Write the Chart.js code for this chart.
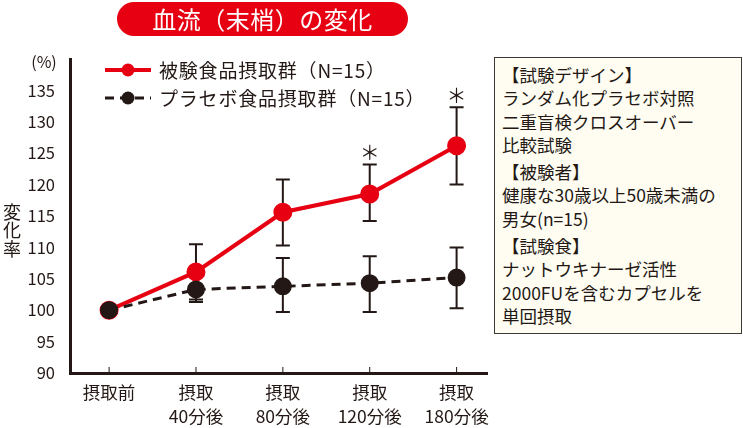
<!DOCTYPE html>
<html lang="ja">
<head>
<meta charset="utf-8">
<script src="https://cdn.jsdelivr.net/npm/chart.js@4/dist/chart.umd.min.js"></script>
<style>
  html, body { margin: 0; padding: 0; background: #fff; }
  body { width: 743px; height: 428px; position: relative; overflow: hidden;
         font-family: "Noto Sans CJK JP", "Noto Sans", sans-serif; color: #231815; }
  #wrap { position: absolute; left: 0; top: 0; width: 743px; height: 428px; }
  #title { position: absolute; left: 117px; top: 2px; width: 291px; height: 34px;
           border-radius: 17px; background: #e60012; color: #fff; font-size: 24px;
           line-height: 33px; text-align: center; letter-spacing: 0.5px; }
  #note { position: absolute; left: 494px; top: 57px; width: 239px; height: 270px;
          border: 1px solid #3e3a39; background: #fffdf1; padding: 5px 0 0 7px;
          font-size: 17.5px; line-height: 23.3px; letter-spacing: 0px; }
  #note p { margin: 0 0 4px 0; }
</style>
</head>
<body>
<div id="wrap"><canvas id="chart" width="743" height="428"></canvas></div>
<div id="title">血流（末梢）の変化</div>
<div id="note"></div>
<script>
// categories / values
const categories = [['摂取前'], ['摂取', '40分後'], ['摂取', '80分後'], ['摂取', '120分後'], ['摂取', '180分後']];
const testValues = [100, 106.1, 115.6, 118.5, 126.2];
const testUpper = [100, 110.5, 120.8, 123.2, 132.3];
const testLower = [100, 101.7, 110.3, 114.2, 120.0];
const placeboValues = [100, 103.3, 103.8, 104.3, 105.2];
const placeboUpper = [100, 105.3, 108.3, 108.6, 110.0];
const placeboLower = [100, 101.3, 99.7, 99.7, 100.3];
const sigMarks = ['', '', '', '＊', '＊'];
const yTicks = [90, 95, 100, 105, 110, 115, 120, 125, 130, 135];
const seriesNames = ['被験食品摂取群（N=15）', 'プラセボ食品摂取群（N=15）'];
const noteLines = [
  ['【試験デザイン】', 'ランダム化プラセボ対照', '二重盲検クロスオーバー', '比較試験'],
  ['【被験者】', '健康な30歳以上50歳未満の', '男女(n=15)'],
  ['【試験食】', 'ナットウキナーゼ活性', '2000FUを含むカプセルを', '単回摂取']
];

const RED = '#e60012';
const INK = '#231815';
const FONT = '"Noto Sans CJK JP", "Noto Sans", sans-serif';

document.getElementById('note').innerHTML =
  noteLines.map(g => '<p>' + g.join('<br>') + '</p>').join('');

const toPoints = vals => vals.map((v, i) => ({x: i, y: v}));

// error bars, significance marks, axis titles and legend
const extras = {
  id: 'extras',
  beforeDatasetsDraw(chart) {
    const {ctx, scales: {x, y}} = chart;
    const bars = [[testUpper, testLower], [placeboUpper, placeboLower]];
    ctx.save();
    ctx.lineWidth = 2;
    ctx.strokeStyle = INK;
    bars.forEach(([up, lo]) => {
      up.forEach((u, i) => {
        if (u === lo[i]) return;
        const px = x.getPixelForValue(i);
        const yt = y.getPixelForValue(u), yb = y.getPixelForValue(lo[i]);
        ctx.beginPath();
        ctx.moveTo(px, yt); ctx.lineTo(px, yb);
        ctx.moveTo(px - 7, yt); ctx.lineTo(px + 7, yt);
        ctx.moveTo(px - 7, yb); ctx.lineTo(px + 7, yb);
        ctx.stroke();
      });
    });
    ctx.restore();
  },
  afterDraw(chart) {
    const {ctx, scales: {x, y}, chartArea} = chart;
    ctx.save();
    // small tick marks on the x axis
    ctx.strokeStyle = INK;
    ctx.lineWidth = 1;
    categories.forEach((c, i) => {
      const px = x.getPixelForValue(i);
      ctx.beginPath();
      ctx.moveTo(px, chartArea.bottom);
      ctx.lineTo(px, chartArea.bottom - 6);
      ctx.stroke();
    });
    // significance marks
    ctx.fillStyle = INK;
    ctx.font = '20px ' + FONT;
    ctx.textAlign = 'center';
    ctx.textBaseline = 'middle';
    sigMarks.forEach((m, i) => {
      if (!m) return;
      ctx.fillText(m, x.getPixelForValue(i), y.getPixelForValue(testUpper[i]) - 12);
    });
    // axis titles
    ctx.font = '16px ' + FONT;
    ctx.fillText('(%)', 44, 62);
    ctx.font = '18px ' + FONT;
    ['変', '化', '率'].forEach((ch, i) => ctx.fillText(ch, 12, 212 + i * 18.5));
    // legend
    chart.data.datasets.forEach((ds, i) => {
      const ly = 70 + i * 28;
      ctx.strokeStyle = ds.borderColor;
      ctx.lineWidth = ds.borderWidth;
      ctx.setLineDash(ds.borderDash || []);
      ctx.beginPath();
      ctx.moveTo(105, ly); ctx.lineTo(151, ly);
      ctx.stroke();
      ctx.setLineDash([]);
      ctx.fillStyle = ds.pointBackgroundColor;
      ctx.beginPath();
      ctx.arc(128, ly, 6.5, 0, Math.PI * 2);
      ctx.fill();
      ctx.fillStyle = INK;
      ctx.font = '19px ' + FONT;
      ctx.letterSpacing = '0.8px';
      ctx.textAlign = 'left';
      ctx.fillText(ds.label, 159, ly + 1);
      ctx.letterSpacing = '0px';
      ctx.textAlign = 'center';
    });
    ctx.restore();
  }
};

new Chart(document.getElementById('chart'), {
  type: 'line',
  data: {
    datasets: [
      {
        label: seriesNames[0],
        data: toPoints(testValues),
        borderColor: RED,
        borderWidth: 4,
        pointBackgroundColor: RED,
        pointBorderColor: RED,
        pointRadius: 7.5,
        clip: false,
        order: 2
      },
      {
        label: seriesNames[1],
        data: toPoints(placeboValues),
        borderColor: INK,
        borderWidth: 3,
        borderDash: [9, 6],
        pointBackgroundColor: INK,
        pointBorderColor: INK,
        pointRadius: 7.5,
        clip: false,
        order: 1
      }
    ]
  },
  options: {
    responsive: false,
    animation: false,
    events: [],
    layout: {padding: {top: 59, right: 256, left: 0, bottom: 0}},
    plugins: {legend: {display: false}, tooltip: {enabled: false}},
    scales: {
      x: {
        type: 'linear',
        min: -0.45,
        max: 4.35,
        afterBuildTicks: s => { s.ticks = categories.map((c, i) => ({value: i})); },
        afterFit: s => { s.height = 55; },
        grid: {display: false, drawTicks: false},
        border: {display: true, color: INK, width: 3},
        ticks: {
          padding: 7,
          color: INK,
          font: {family: FONT, size: 17.5, lineHeight: 1.4},
          maxRotation: 0,
          autoSkip: false,
          callback: v => categories[v]
        }
      },
      y: {
        min: 90,
        max: 140,
        afterBuildTicks: s => { s.ticks = yTicks.map(v => ({value: v})); },
        afterFit: s => { s.width = 70; },
        grid: {display: false, drawTicks: false},
        border: {display: true, color: INK, width: 3},
        ticks: {
          padding: 15,
          color: INK,
          font: {family: FONT, size: 16.5}
        }
      }
    }
  },
  plugins: [extras]
});
</script>
</body>
</html>
